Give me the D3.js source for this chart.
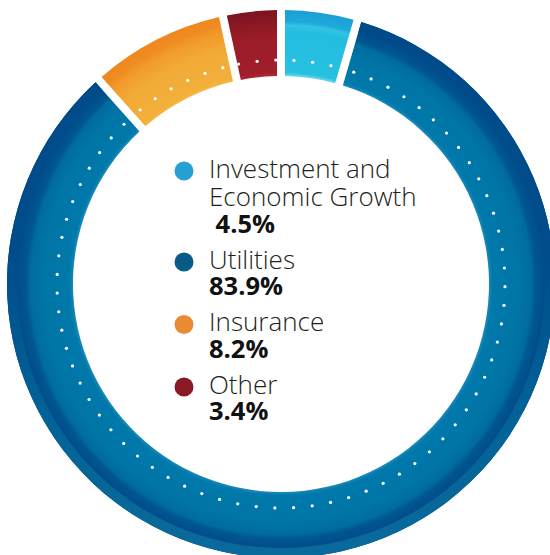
<!DOCTYPE html>
<html>
<head>
<meta charset="utf-8">
<script src="https://cdn.jsdelivr.net/npm/d3@7"></script>
<style>
  html, body { margin: 0; padding: 0; background: #fff; }
  svg { display: block; }
</style>
</head>
<body>
<svg id="chart" width="550" height="555"></svg>
<script>
// Portfolio composition by sector (percent of total)
const categories = ["Investment and Economic Growth", "Utilities", "Insurance", "Other"];
const labelLines = [["Investment and", "Economic Growth"], ["Utilities"], ["Insurance"], ["Other"]];
const shares = [4.5, 83.9, 8.2, 3.4];

// Palette: legend swatches and radial ring shading per sector
const swatch = ["#27a1d3", "#085b86", "#eb8a35", "#8a1b24"];
const ringStops = [
  [[0.759, "#6fd7ec"], [0.772, "#27c2e1"], [0.92, "#22bde0"], [0.945, "#34c3e4"], [0.958, "#1fa9da"], [1, "#1a9fd5"]],
  [[0.759, "#1a8abb"], [0.772, "#0079aa"], [0.87, "#0075a6"], [0.915, "#006b9e"], [0.93, "#00578f"], [0.965, "#004c8b"], [1, "#004c8b"]],
  [[0.759, "#f5b844"], [0.772, "#f2b03b"], [0.88, "#f2aa37"], [0.94, "#f19a2a"], [0.965, "#ef8c21"], [1, "#ee881f"]],
  [[0.759, "#b0283a"], [0.772, "#a11e2c"], [0.9, "#9c1c29"], [0.95, "#8c1823"], [1, "#7b1320"]]
];

const width = 550, height = 555;
const cx = 281, cy = 284;
const rInner = 208, rOuter = 274, rDots = 224;
const gap = 8;

const svg = d3.select("#chart");
const defs = svg.append("defs");
const g = svg.append("g").attr("transform", `translate(${cx},${cy})`);

const pie = d3.pie().sort(null).value(d => d).startAngle(0).endAngle(2 * Math.PI);
const arcs = pie(shares);

const arc = d3.arc()
  .innerRadius(rInner)
  .outerRadius(rOuter)
  .padRadius(rOuter)
  .padAngle(gap / rOuter);

// radial gradients centred on the ring
ringStops.forEach((stops, i) => {
  const grad = defs.append("radialGradient")
    .attr("id", "ring" + i)
    .attr("gradientUnits", "userSpaceOnUse")
    .attr("cx", 0).attr("cy", 0).attr("fx", 0).attr("fy", 0)
    .attr("r", rOuter);
  stops.forEach(([o, c]) => grad.append("stop").attr("offset", o).attr("stop-color", c));
});

// outer wall of the big segment: dark at the top, lighter lower down
const wall = defs.append("linearGradient")
  .attr("id", "wall")
  .attr("gradientUnits", "userSpaceOnUse")
  .attr("x1", 0).attr("y1", -rOuter).attr("x2", 0).attr("y2", rOuter);
[[0, "#004a8a"], [0.45, "#004c8b"], [0.55, "#00558f"], [0.75, "#036397"], [1, "#0a6a9b"]]
  .forEach(([o, c]) => wall.append("stop").attr("offset", o).attr("stop-color", c));

g.selectAll("path.seg")
  .data(arcs)
  .join("path")
  .attr("class", "seg")
  .attr("d", arc)
  .attr("fill", (d, i) => `url(#ring${i})`);

const wallArc = d3.arc()
  .innerRadius(264)
  .outerRadius(rOuter)
  .padRadius(rOuter)
  .padAngle(gap / rOuter);

g.append("path")
  .datum(arcs[1])
  .attr("d", wallArc)
  .attr("fill", "url(#wall)");

// dotted line running through each segment
const step = 18.7 / rDots;
const margin = (gap / 2 + 1) / rDots;
const dots = [];
arcs.forEach(a => {
  const usable = (a.endAngle - a.startAngle) - 2 * margin;
  const n = Math.floor(usable / step) + 1;
  const mid = (a.startAngle + a.endAngle) / 2;
  for (let k = 0; k < n; k++) {
    dots.push(mid + (k - (n - 1) / 2) * step);
  }
});

g.selectAll("circle.dot")
  .data(dots)
  .join("circle")
  .attr("class", "dot")
  .attr("cx", t => rDots * Math.sin(t))
  .attr("cy", t => -rDots * Math.cos(t))
  .attr("r", 1.6)
  .attr("fill", "#fff");

// legend in the hole
const fmt = d3.format(".1f");
const lineH = 28.5, valueH = 26.5, groupGap = 36;
const textX = 209, dotX = 184;
let y = 177.5;

const legend = svg.append("g");
categories.forEach((c, i) => {
  const grp = legend.append("g").attr("class", "item");
  grp.append("circle")
    .attr("cx", dotX)
    .attr("cy", y - 6.5)
    .attr("r", 9.5)
    .attr("fill", swatch[i]);
  labelLines[i].forEach((line, j) => {
    grp.append("text")
      .attr("x", textX)
      .attr("y", y + j * lineH)
      .attr("font-family", "'Open Sans', 'Noto Sans', sans-serif")
      .attr("font-weight", 300)
      .attr("font-size", 26)
      .attr("fill", "#231f20")
      .text(line);
  });
  const vy = y + (labelLines[i].length - 1) * lineH + valueH;
  grp.append("text")
    .attr("x", textX)
    .attr("y", vy)
    .attr("font-family", "'Open Sans', 'Noto Sans', sans-serif")
    .attr("font-weight", 700)
    .attr("font-size", 25.5)
    .attr("fill", "#111")
    .text((i === 0 ? "\u00a0" : "") + fmt(shares[i]) + "%");
  y = vy + groupGap;
});
</script>
</body>
</html>
